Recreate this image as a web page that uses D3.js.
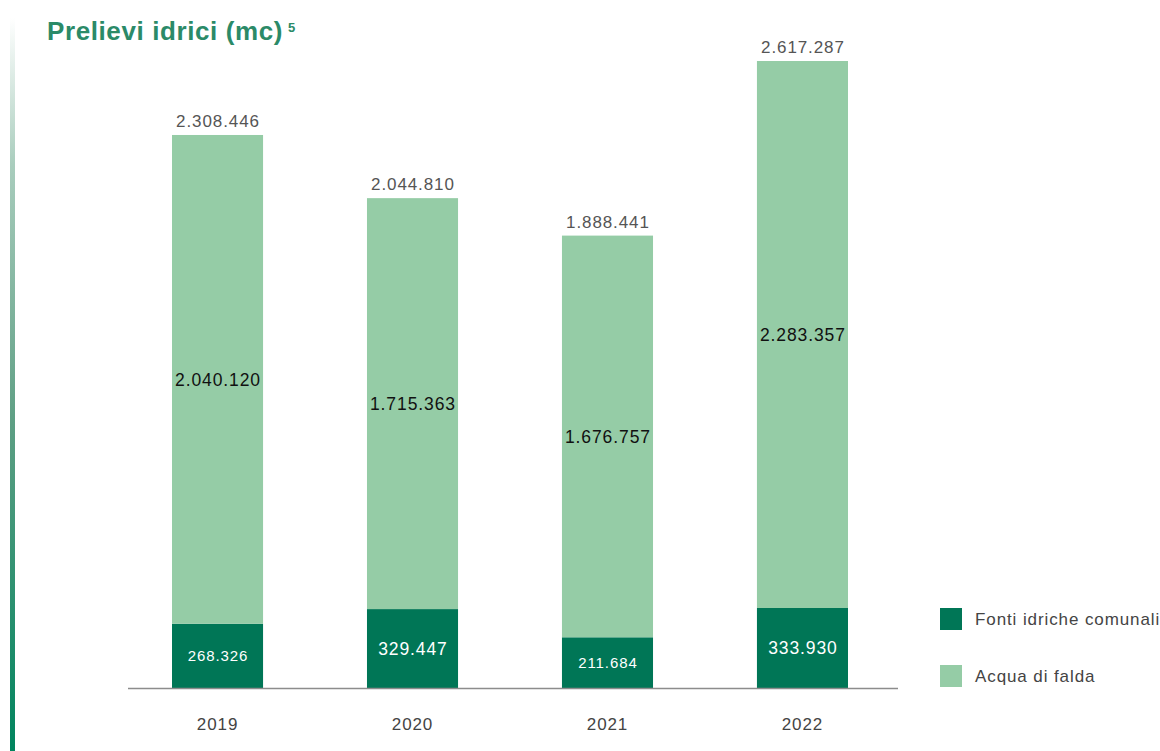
<!DOCTYPE html>
<html>
<head>
<meta charset="utf-8">
<script src="https://cdn.jsdelivr.net/npm/d3@7"></script>
<style>
  html, body { margin: 0; padding: 0; background: #ffffff; }
  svg { display: block; }
</style>
</head>
<body>
<svg id="chart" width="1160" height="751"></svg>
<script>
// Water withdrawals (cubic metres) by year and source
const years = ["2019", "2020", "2021", "2022"];
const fontiComunali = [268326, 329447, 211684, 333930];
const acquaDiFalda = [2040120, 1715363, 1676757, 2283357];
const seriesNames = ["Fonti idriche comunali", "Acqua di falda"];

const colors = { comunali: "#007656", falda: "#95cca6", title: "#2b8a68" };
const fmt = v => d3.format(",")(v).replace(/,/g, ".");

const svg = d3.select("#chart");
const W = 1160, H = 751;
const baseY = 688;
const font = "Liberation Sans, Arial, sans-serif";
const spacing = 0.9;

// Decorative vertical accent bar on the left edge
const defs = svg.append("defs");
const grad = defs.append("linearGradient")
  .attr("id", "accent").attr("x1", 0).attr("y1", 0).attr("x2", 0).attr("y2", 1);
grad.append("stop").attr("offset", "0%").attr("stop-color", "#ffffff");
grad.append("stop").attr("offset", "20%").attr("stop-color", "#a9cdbd");
grad.append("stop").attr("offset", "55%").attr("stop-color", "#5e9f84");
grad.append("stop").attr("offset", "100%").attr("stop-color", "#00845e");
svg.append("rect").attr("x", 10).attr("y", 18).attr("width", 5).attr("height", H - 18)
  .attr("fill", "url(#accent)");

// Title with footnote marker
const title = svg.append("text")
  .attr("x", 47).attr("y", 40)
  .attr("font-family", font)
  .attr("font-weight", "bold").attr("font-size", 26)
  .attr("letter-spacing", 0.6)
  .attr("fill", colors.title)
  .text("Prelievi idrici (mc)");
const titleEnd = 47 + title.node().getComputedTextLength();
svg.append("text")
  .attr("x", titleEnd + 5).attr("y", 32)
  .attr("font-family", font)
  .attr("font-weight", "bold").attr("font-size", 13)
  .attr("fill", colors.title)
  .text("5");

// Scales
const totals = years.map((y, i) => fontiComunali[i] + acquaDiFalda[i]);
const x = d3.scaleBand().domain(years).range([172, 848]).paddingInner(0.533).paddingOuter(0);
const y = d3.scaleLinear().domain([0, d3.max(totals)]).range([baseY, 61]);

const rows = years.map((yr, i) => ({ year: yr, comunali: fontiComunali[i], falda: acquaDiFalda[i] }));
const stack = d3.stack().keys(["comunali", "falda"])(rows);

const layers = svg.append("g").selectAll("g").data(stack).join("g")
  .attr("fill", d => colors[d.key]);
layers.selectAll("rect").data(d => d).join("rect")
  .attr("x", d => x(d.data.year))
  .attr("width", x.bandwidth())
  .attr("y", d => y(d[1]))
  .attr("height", d => y(d[0]) - y(d[1]));

// Segment labels
stack.forEach(layer => {
  svg.append("g").selectAll("text").data(layer).join("text")
    .attr("x", d => x(d.data.year) + x.bandwidth() / 2 + spacing / 2)
    .attr("y", d => (y(d[0]) + y(d[1])) / 2)
    .attr("dy", "0.36em")
    .attr("text-anchor", "middle")
    .attr("font-family", font)
    .attr("letter-spacing", spacing)
    .attr("font-size", d => (layer.key === "comunali" && y(d[0]) - y(d[1]) < 72) ? 15 : 17.5)
    .attr("fill", layer.key === "comunali" ? "#ffffff" : "#111111")
    .text(d => fmt(d.data[layer.key]));
});

// Total labels above bars
svg.append("g").selectAll("text").data(rows).join("text")
  .attr("x", d => x(d.year) + x.bandwidth() / 2 + spacing / 2)
  .attr("y", (d, i) => y(totals[i]) - 8)
  .attr("text-anchor", "middle")
  .attr("font-family", font).attr("font-size", 17)
  .attr("letter-spacing", spacing)
  .attr("fill", "#555555")
  .text((d, i) => fmt(totals[i]));

// X axis
const xAxis = svg.append("g").attr("transform", `translate(0,${baseY})`)
  .call(d3.axisBottom(x).tickSize(0).tickPadding(30));
xAxis.select(".domain").attr("d", "M128,0.5H898").attr("stroke", "#8c8c8c").attr("stroke-width", 1.5);
xAxis.selectAll("text").attr("font-family", font).attr("font-size", 17)
  .attr("letter-spacing", spacing).attr("fill", "#444444");

// Legend
const legend = svg.append("g").selectAll("g").data(seriesNames).join("g")
  .attr("transform", (d, i) => `translate(940,${608 + i * 57})`);
legend.append("rect").attr("width", 22).attr("height", 22)
  .attr("fill", (d, i) => i === 0 ? colors.comunali : colors.falda);
legend.append("text").attr("x", 35).attr("y", 11).attr("dy", "0.36em")
  .attr("font-family", font).attr("font-size", 17)
  .attr("letter-spacing", spacing).attr("fill", "#444444")
  .text(d => d);
</script>
</body>
</html>
